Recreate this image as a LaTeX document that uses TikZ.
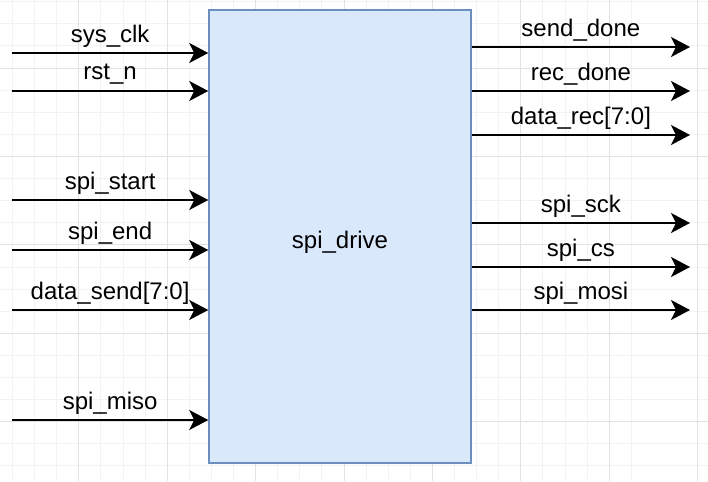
\documentclass[tikz,border=0pt]{standalone}
\usepackage{fontspec}
\setmainfont{Liberation Sans}
\usepackage{tikz}
\usetikzlibrary{
  arrows.meta,
  positioning,
  calc
}
\definecolor{drivefill}{HTML}{DAE8FC}
\definecolor{drivedraw}{HTML}{6C8EBF}
\definecolor{gridminor}{HTML}{F2F2F2}
\definecolor{gridmajor}{HTML}{E2E2E2}
\tikzset{
  drivebox/.style={
    rectangle, draw=drivedraw, fill=drivefill, line width=1.5pt,
    minimum width=262pt, minimum height=453pt, inner sep=0pt,
    text height=24pt, text depth=0pt,
    font=\fontsize{24}{26}\selectfont
  },
  sigarrow/.style={
    -{Stealth[length=19pt, width=20pt, inset=5pt]}, line width=1.6pt, color=black
  },
  sigtext/.style={
    font=\fontsize{24}{26}\selectfont, inner sep=0pt, yshift=17pt
  },
}

\begin{document}
\begin{tikzpicture}[x=1pt, y=-1pt]
  \useasboundingbox (0,0) rectangle (708,481);
  \fill[white] (0,0) rectangle (708,481);

  % background grid
  \foreach \k in {0,...,31} {
    \draw[gridminor, line width=0.8pt] ({12.4+(\k-3)*22.1},0) -- ++(0,481);
  }
  \foreach \k in {0,...,21} {
    \draw[gridminor, line width=0.8pt] (0,{1.7+\k*22.1}) -- ++(708,0);
  }
  \foreach \k in {0,...,8} {
    \draw[gridmajor, line width=0.8pt] ({78.7+(\k-1)*88.4},0) -- ++(0,481);
  }
  \foreach \k in {0,...,5} {
    \draw[gridmajor, line width=0.8pt] (0,{68+(\k-1)*88.4}) -- ++(708,0);
  }

  \node[drivebox] (drive) at (340,236.5) {spi\_drive};

  % inputs
  \foreach \y/\txt [count=\i] in {53/{sys\_clk}, 91/{rst\_n}, 200/{spi\_start},
      250/{spi\_end}, 310/{data\_send[7:0]}, 420/{spi\_miso}} {
    \coordinate (in\i) at (12,\y);
    \draw[sigarrow] (in\i) -- (drive.west |- in\i)
      node[sigtext, midway] (lin\i) {\txt};
  }

  % outputs
  \foreach \y/\txt [count=\i] in {47/{send\_done}, 91/{rec\_done}, 135/{data\_rec[7:0]},
      223/{spi\_sck}, 267/{spi\_cs}, 310/{spi\_mosi}} {
    \coordinate (out\i) at (690,\y);
    \draw[sigarrow] (drive.east |- out\i) -- (out\i)
      node[sigtext, midway] (lout\i) {\txt};
  }
\end{tikzpicture}
\end{document}
